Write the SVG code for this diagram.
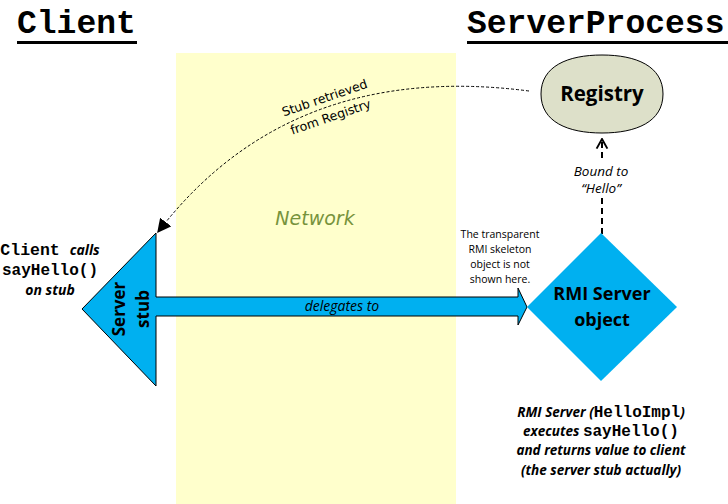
<svg xmlns="http://www.w3.org/2000/svg" width="728" height="504" viewBox="0 0 728 504">
  <style>
    .title { font-family: "Liberation Mono", "Courier New", monospace; font-weight: bold; font-size: 33px; fill: #000; }
    .mono { font-family: "Liberation Mono", "Courier New", monospace; font-weight: bold; }
    .cal { font-family: "Open Sans", "Noto Sans", sans-serif; }
    .bi { font-family: "Open Sans", "Noto Sans", sans-serif; font-weight: bold; font-style: italic; }
    .blue { fill: #00b0f0; }
  </style>
  <defs>
    <marker id="tri" viewBox="0 0 10 10" refX="9" refY="5" markerWidth="14" markerHeight="14" markerUnits="userSpaceOnUse" orient="auto">
      <path d="M0,0 L10,5 L0,10 Z" fill="#000"/>
    </marker>
    <marker id="chev" viewBox="0 0 10 10" refX="9" refY="5" markerWidth="12" markerHeight="16" markerUnits="userSpaceOnUse" orient="auto">
      <path d="M1,0.5 L9,5 L1,9.5" fill="none" stroke="#000" stroke-width="1.6"/>
    </marker>
  </defs>
  <rect width="728" height="504" fill="#fff"/>

  <g id="network">
    <rect x="176" y="53" width="280" height="451" fill="#ffffcc"/>
    <text x="315" y="225" text-anchor="middle" font-family="DejaVu Sans, sans-serif" font-style="italic" font-size="19" fill="#77933c">Network</text>
  </g>

  <g id="title-client">
    <text class="title" x="17" y="33">Client</text>
    <rect x="17" y="41" width="120" height="3" fill="#000"/>
  </g>
  <g id="title-server">
    <text class="title" x="467" y="33">ServerProcess</text>
    <rect x="467" y="41" width="261" height="3" fill="#000"/>
  </g>

  <g id="connectors">
    <path d="M529,91 Q290,60 158,232" fill="none" stroke="#000" stroke-width="1" stroke-dasharray="3,2" marker-end="url(#tri)"/>
    <g transform="translate(326,102) rotate(-19)">
      <text x="0" y="0" text-anchor="middle" font-family="DejaVu Sans, sans-serif" font-size="12.5" fill="#000">Stub retrieved</text>
    </g>
    <g transform="translate(332,121) rotate(-19)">
      <text x="0" y="0" text-anchor="middle" font-family="DejaVu Sans, sans-serif" font-size="12.5" fill="#000">from Registry</text>
    </g>
    <line x1="602" y1="158" x2="602" y2="139" stroke="#000" stroke-width="2" stroke-dasharray="6,4" marker-end="url(#chev)"/>
    <line x1="602" y1="234" x2="602" y2="198" stroke="#000" stroke-width="2" stroke-dasharray="6,4"/>
    <text class="cal" x="601" y="176" text-anchor="middle" font-style="italic" font-size="13.5">Bound to</text>
    <text class="cal" x="601" y="193" text-anchor="middle" font-style="italic" font-size="13.5">“Hello”</text>
  </g>

  <g id="registry">
    <path d="M602,55 C636,55 663,66 663,94 C663,122 636,133 602,133 C568,133 541,122 541,94 C541,66 568,55 602,55 Z" fill="#dde0c9" stroke="#000" stroke-width="1"/>
    <text class="cal" x="602" y="101" text-anchor="middle" font-weight="bold" font-size="20.5">Registry</text>
  </g>

  <g id="server-stub">
    <path d="M82,309 L156,233 L156,297 L518,297 L518,288 L527,307 L518,325 L518,316 L156,316 L156,386 Z" class="blue" stroke="#000" stroke-width="1"/>
    <text class="cal" transform="translate(125,309) rotate(-90)" text-anchor="middle" font-weight="bold" font-size="17">Server</text>
    <text class="cal" transform="translate(149,309) rotate(-90)" text-anchor="middle" font-weight="bold" font-size="17">stub</text>
    <text class="cal" x="342" y="311" text-anchor="middle" font-style="italic" font-size="14">delegates to</text>
  </g>

  <g id="rmi-server">
    <path d="M601,233 L677,307 L601,381 L527,307 Z" class="blue"/>
    <text class="cal" x="602" y="300" text-anchor="middle" font-weight="bold" font-size="18">RMI Server</text>
    <text class="cal" x="602" y="326" text-anchor="middle" font-weight="bold" font-size="18">object</text>
  </g>

  <g id="skeleton-note" class="cal" font-size="10.5" text-anchor="middle">
    <text x="500" y="238">The transparent</text>
    <text x="500" y="253">RMI skeleton</text>
    <text x="500" y="268">object is not</text>
    <text x="500" y="283">shown here.</text>
  </g>

  <g id="client-note" text-anchor="middle">
    <text x="50" y="255"><tspan class="mono" font-size="16.5">Client </tspan><tspan class="bi" font-size="14">calls</tspan></text>
    <text x="50" y="275" class="mono" font-size="16">sayHello()</text>
    <text x="50" y="295" class="bi" font-size="14">on stub</text>
  </g>

  <g id="server-note" text-anchor="middle">
    <text x="601" y="417"><tspan class="bi" font-size="13.5">RMI Server (</tspan><tspan class="mono" font-size="16">HelloImpl</tspan><tspan class="bi" font-size="13.5">)</tspan></text>
    <text x="601" y="436"><tspan class="bi" font-size="13.5">executes </tspan><tspan class="mono" font-size="16">sayHello()</tspan></text>
    <text x="601" y="455" class="bi" font-size="13.5">and returns value to client</text>
    <text x="601" y="475" class="bi" font-size="13.5">(the server stub actually)</text>
  </g>
</svg>
